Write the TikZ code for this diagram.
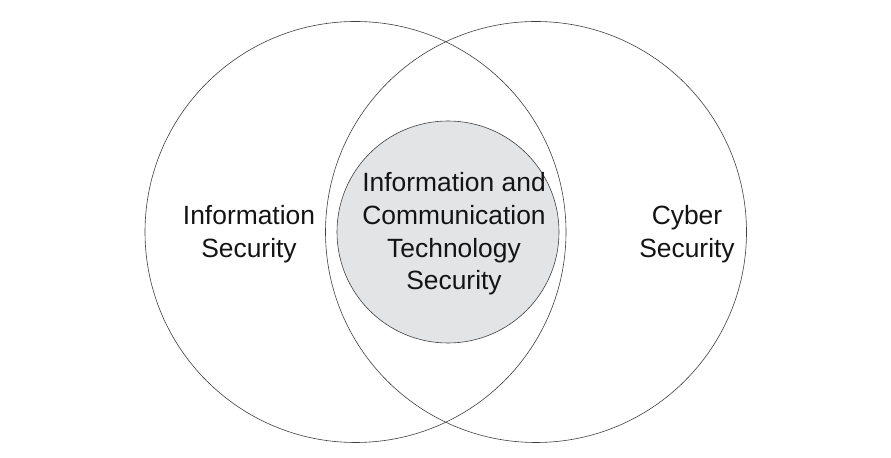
\documentclass[tikz,border=0pt]{standalone}
\usepackage{fontspec}
\setmainfont{Liberation Sans}
\begin{document}
\begin{tikzpicture}[x=1bp,y=-1bp,
  ring/.style={draw=black!75,line width=0.6bp,circle,inner sep=0pt},
  lbl/.style={align=center,inner sep=0pt,text=black!92,
    font=\fontsize{26.4bp}{32.7bp}\selectfont}]
\useasboundingbox[fill=white] (0,0) rectangle (891,458);
\node[ring,minimum size=421bp] (info) at (355.5,232) {};
\node[ring,minimum size=421bp] (cyber) at (536,232) {};
\node[ring,fill={rgb,255:red,227;green,228;blue,230},minimum size=222bp] (ict) at (448,232) {};
\node[lbl] (infotxt) at (249,234) {Information\\Security};
\node[lbl] (cybertxt) at (687,234) {Cyber\\Security};
\node[lbl] (icttxt) at (454,234) {Information and\\Communication\\Technology\\Security};
\end{tikzpicture}
\end{document}
